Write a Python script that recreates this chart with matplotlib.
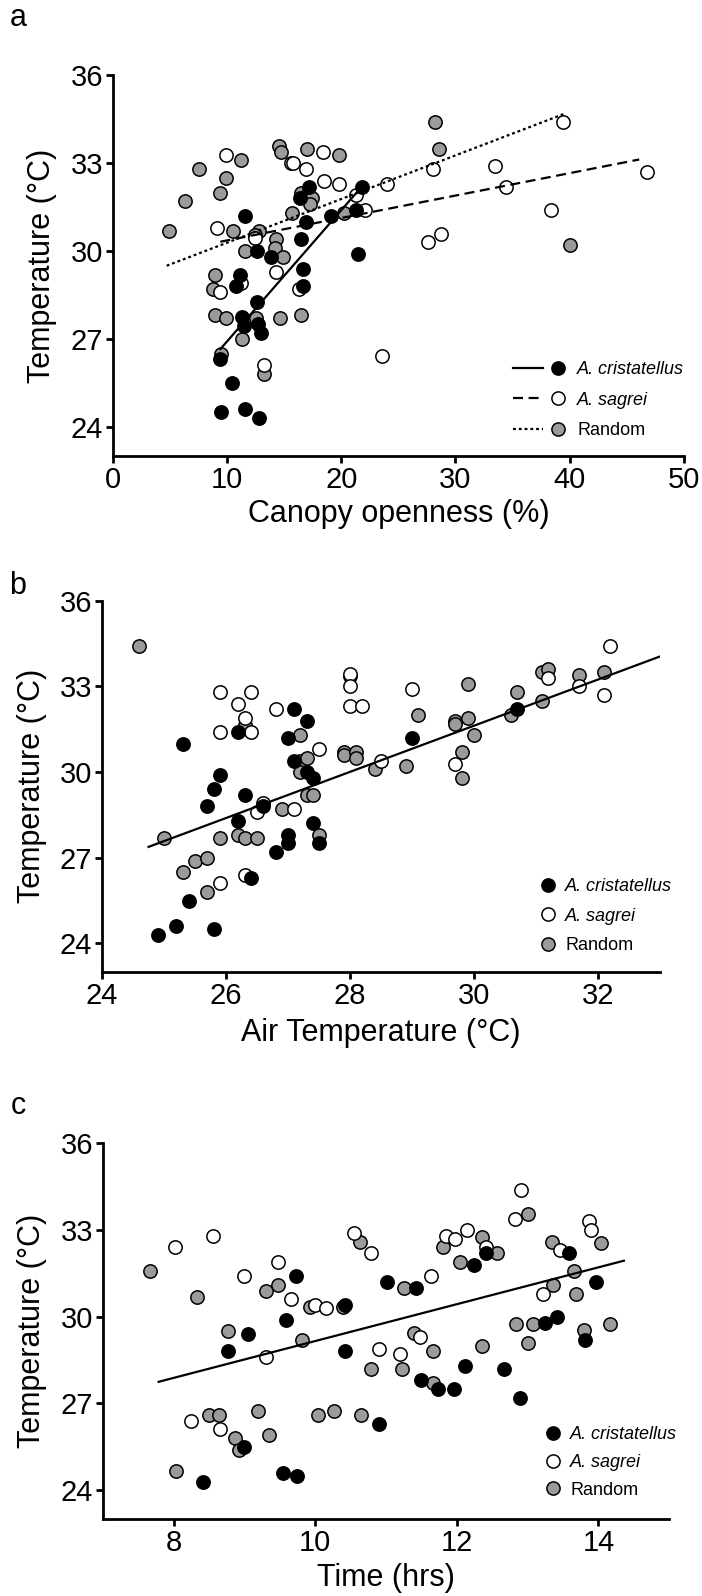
"""Body temperature of anoles vs canopy openness, air temperature and time."""
import matplotlib
matplotlib.use("Agg")
import matplotlib.pyplot as plt
from matplotlib.lines import Line2D
from matplotlib.legend_handler import HandlerTuple

plt.rcParams['font.family'] = ['Liberation Sans', 'DejaVu Sans']

GRAY = '#9b9b9b'

# ---- panel a: canopy openness ----
a_cris_x = [17.2, 16.4, 11.6, 16.9, 19.1, 21.8, 21.3, 21.5, 16.5, 12.6, 13.8, 16.6, 11.1,
            10.8, 16.6, 12.6, 11.3, 11.5, 12.7, 13.0, 9.4, 10.4, 9.5, 11.6, 12.8]
a_cris_y = [32.2, 31.8, 31.2, 31.0, 31.2, 32.2, 31.4, 29.9, 30.4, 30.0, 29.8, 29.4, 29.2,
            28.8, 28.8, 28.25, 27.75, 27.45, 27.5, 27.2, 26.3, 25.5, 24.5, 24.6, 24.3]
a_sag_x = [9.9, 15.6, 15.8, 16.9, 18.4, 18.5, 19.8, 21.3, 22.1, 24.0, 9.1, 12.4, 14.3,
           11.2, 9.4, 16.3, 13.2, 23.6, 28.0, 33.5, 34.4, 39.4, 46.8, 38.4, 27.6, 28.7]
a_sag_y = [33.3, 33.0, 33.0, 32.8, 33.4, 32.4, 32.3, 31.9, 31.4, 32.3, 30.8, 30.45, 29.3,
           28.9, 28.6, 28.7, 26.1, 26.4, 32.8, 32.9, 32.2, 34.4, 32.7, 31.4, 30.3, 30.6]
a_rand_x = [4.9, 6.3, 7.5, 9.9, 9.4, 11.2, 10.5, 12.8, 11.6, 14.3, 14.2, 14.9, 14.5, 14.7,
            17.0, 19.8, 15.7, 16.5, 17.0, 17.4, 17.3, 20.2, 8.9, 8.8, 8.9, 9.9, 11.3, 12.5,
            14.6, 16.5, 9.5, 13.2, 12.4, 28.2, 28.6, 40.0]
a_rand_y = [30.7, 31.7, 32.8, 32.5, 32.0, 33.1, 30.7, 30.7, 30.0, 30.4, 30.1, 29.8, 33.6, 33.4,
            33.5, 33.3, 31.3, 32.0, 31.9, 31.8, 31.6, 31.3, 29.2, 28.7, 27.8, 27.7, 27.0, 27.7,
            27.7, 27.8, 26.5, 25.8, 30.55, 34.4, 33.5, 30.2]
a_fit_cris_x, a_fit_cris_y = [9.4, 21.9], [26.65, 32.25]
a_fit_sag_x, a_fit_sag_y = [9.4, 46.1], [30.32, 33.13]
a_fit_rand_x, a_fit_rand_y = [4.7, 39.6], [29.5, 34.7]

# ---- panel b: air temperature ----
b_cris_x = [25.3, 25.9, 25.8, 25.7, 26.3, 26.6, 26.2, 27.1, 27.3, 26.2, 27.0, 27.1, 27.3,
            27.4, 27.4, 27.0, 27.0, 27.5, 26.8, 26.4, 25.4, 25.2, 24.9, 25.8, 29.0, 30.7]
b_cris_y = [31.0, 29.9, 29.4, 28.8, 29.2, 28.8, 28.3, 32.2, 31.8, 31.4, 31.2, 30.4, 30.0,
            29.8, 28.2, 27.8, 27.5, 27.5, 27.2, 26.3, 25.5, 24.6, 24.3, 24.5, 31.2, 32.2]
b_sag_x = [25.9, 26.4, 26.2, 26.3, 25.9, 26.4, 26.8, 27.5, 26.6, 26.5, 27.1, 26.3, 25.9,
           28.0, 28.0, 28.0, 28.2, 28.5, 29.0, 29.7, 31.2, 31.7, 32.1, 32.2]
b_sag_y = [32.8, 32.8, 32.4, 31.9, 31.4, 31.4, 32.2, 30.8, 28.9, 28.6, 28.7, 26.4, 26.1,
           33.45, 33.0, 32.3, 32.3, 30.4, 32.9, 30.3, 33.3, 33.0, 32.7, 34.4]
b_rand_x = [24.6, 25.0, 25.3, 25.5, 25.7, 25.7, 25.9, 26.2, 26.3, 26.5, 26.3, 26.9, 27.2, 27.2,
            27.3, 27.2, 27.3, 27.4, 27.5, 27.9, 27.9, 28.1, 28.1, 28.4, 28.0, 28.9, 29.1, 29.7,
            29.7, 29.9, 29.9, 30.0, 29.8, 29.8, 30.6, 30.7, 31.1, 31.1, 31.2, 31.7, 32.1]
b_rand_y = [34.4, 27.7, 26.5, 26.9, 27.0, 25.8, 27.7, 27.8, 27.7, 27.7, 31.65, 28.7, 31.3, 30.4,
            30.5, 30.0, 29.2, 29.2, 27.8, 30.7, 30.6, 30.7, 30.5, 30.1, 33.37, 30.2, 32.0, 31.8,
            31.7, 31.9, 33.1, 31.3, 30.7, 29.8, 32.0, 32.8, 32.5, 33.5, 33.6, 33.4, 33.5]
b_fit_x, b_fit_y = [24.75, 33.0], [27.38, 34.05]

# ---- panel c: time of day ----
c_cris_x = [9.73, 9.59, 9.05, 8.77, 8.99, 8.41, 9.55, 9.74, 10.42, 10.42, 11.01, 10.90, 11.42,
            12.24, 12.41, 12.12, 11.50, 11.74, 11.96, 12.67, 12.89, 13.25, 13.42, 13.59, 13.97, 13.81]
c_cris_y = [31.4, 29.9, 29.4, 28.8, 25.5, 24.3, 24.6, 24.5, 30.4, 28.8, 31.2, 26.3, 31.0,
            31.8, 32.2, 28.3, 27.8, 27.5, 27.5, 28.2, 27.2, 29.8, 30.0, 32.2, 31.2, 29.2]
c_sag_x = [8.02, 8.56, 9.00, 9.48, 9.66, 10.00, 10.15, 9.30, 8.25, 8.65, 10.55, 10.79, 10.90,
           11.20, 11.48, 11.63, 11.85, 11.98, 12.15, 12.41, 12.82, 12.91, 13.22, 13.46, 13.87, 13.89]
c_sag_y = [32.4, 32.8, 31.4, 31.9, 30.6, 30.4, 30.3, 28.6, 26.4, 26.1, 32.9, 32.2, 28.9,
           28.7, 29.3, 31.4, 32.8, 32.7, 33.0, 32.4, 33.4, 34.4, 30.8, 32.3, 33.3, 33.0]
c_rand_x = [7.67, 8.33, 8.77, 8.04, 8.50, 8.64, 8.87, 8.92, 9.19, 9.35, 9.30, 9.48, 9.81, 9.93,
            10.04, 10.27, 10.39, 10.65, 10.64, 10.79, 11.25, 11.23, 11.40, 11.66, 11.66, 11.80,
            12.04, 12.36, 12.57, 12.36, 13.00, 12.83, 13.07, 13.00, 13.34, 13.36, 13.65, 13.68,
            13.79, 14.04, 14.17]
c_rand_y = [31.6, 30.7, 29.5, 24.65, 26.6, 26.6, 25.8, 25.4, 26.75, 25.9, 30.9, 31.1, 29.2, 30.35,
            26.6, 26.75, 30.35, 26.6, 32.6, 28.2, 31.0, 28.2, 29.45, 28.8, 27.7, 32.4,
            31.9, 32.75, 32.2, 29.0, 33.55, 29.75, 29.75, 29.1, 32.6, 31.1, 31.6, 30.8,
            29.55, 32.55, 29.75]
c_fit_x, c_fit_y = [7.79, 14.36], [27.75, 31.94]

y_ticks = [24, 27, 30, 33, 36]
legend_labels = ["A. cristatellus", "A. sagrei", "Random"]


def style_axes(ax, xlim, xticks, ylim_low, xlabel, xlab_y, ylab_x):
    ax.set_xlim(*xlim)
    ax.set_ylim(ylim_low, 36)
    ax.set_xticks(xticks)
    ax.set_yticks(y_ticks)
    ax.spines['top'].set_visible(False)
    ax.spines['right'].set_visible(False)
    ax.spines['left'].set_linewidth(2)
    ax.spines['bottom'].set_linewidth(2)
    ax.tick_params(direction='out', length=5, width=2, labelsize=21, pad=2)
    ax.set_xlabel(xlabel, fontsize=22, va='center')
    ax.set_ylabel("Temperature (°C)", fontsize=22, va='center')
    ax.xaxis.set_label_coords(0.5, xlab_y)
    ax.yaxis.set_label_coords(ylab_x, 0.5)


def scatter_groups(ax, cx, cy, sx, sy, rx, ry):
    kw = dict(s=92, edgecolors='k', linewidths=1.1, zorder=3, clip_on=False)
    ax.scatter(rx, ry, c=GRAY, **kw)
    ax.scatter(sx, sy, c='white', **kw)
    ax.scatter(cx, cy, c='k', **kw)


def marker(fc):
    return Line2D([], [], ls='none', marker='o', markersize=9.5, markerfacecolor=fc,
                  markeredgecolor='k', markeredgewidth=1.1)


fig = plt.figure(figsize=(7.02, 15.96), dpi=100)

# panel a
ax_a = fig.add_axes([0.161, 0.7143, 0.813, 0.2384])
scatter_groups(ax_a, a_cris_x, a_cris_y, a_sag_x, a_sag_y, a_rand_x, a_rand_y)
ax_a.plot(a_fit_cris_x, a_fit_cris_y, color='k', lw=1.6, ls='-', zorder=4)
ax_a.plot(a_fit_sag_x, a_fit_sag_y, color='k', lw=1.6, ls=(0, (4.5, 2.5)), zorder=4)
ax_a.plot(a_fit_rand_x, a_fit_rand_y, color='k', lw=1.6, ls=(0, (1.3, 1.3)), zorder=4)
style_axes(ax_a, (0, 50), [0, 10, 20, 30, 40, 50], 23, "Canopy openness (%)", -0.152, -0.125)
handles_a = [
    (Line2D([], [], color='k', lw=1.6, ls='-'), marker('k')),
    (Line2D([], [], color='k', lw=1.6, ls=(0, (4.5, 2.5))), marker('white')),
    (Line2D([], [], color='k', lw=1.6, ls=(0, (1.3, 1.3))), marker(GRAY)),
]
leg = ax_a.legend(handles_a, legend_labels, handler_map={tuple: HandlerTuple(ndivide=None, pad=0)},
                  loc='upper left', bbox_to_anchor=(513 / 702, 1 - 361 / 1596),
                  bbox_transform=fig.transFigure, frameon=False, fontsize=13, borderpad=0,
                  borderaxespad=0, handlelength=3.3, handletextpad=0.25, labelspacing=0.75)
for t in leg.get_texts()[:2]:
    t.set_style('italic')

# panel b
ax_b = fig.add_axes([0.1453, 0.391, 0.795, 0.2326])
scatter_groups(ax_b, b_cris_x, b_cris_y, b_sag_x, b_sag_y, b_rand_x, b_rand_y)
ax_b.plot(b_fit_x, b_fit_y, color='k', lw=1.6, zorder=4)
style_axes(ax_b, (24, 33), [24, 26, 28, 30, 32], 23, "Air Temperature (°C)", -0.165, -0.125)
leg = ax_b.legend([marker('k'), marker('white'), marker(GRAY)], legend_labels,
                  loc='upper left', bbox_to_anchor=(539 / 702, 1 - 878 / 1596),
                  bbox_transform=fig.transFigure, frameon=False, fontsize=13, borderpad=0,
                  borderaxespad=0, handlelength=1.0, handletextpad=0.45, labelspacing=0.7)
for t in leg.get_texts()[:2]:
    t.set_style('italic')

# panel c
ax_c = fig.add_axes([0.1463, 0.0482, 0.807, 0.2354])
scatter_groups(ax_c, c_cris_x, c_cris_y, c_sag_x, c_sag_y, c_rand_x, c_rand_y)
ax_c.plot(c_fit_x, c_fit_y, color='k', lw=1.6, zorder=4)
style_axes(ax_c, (7, 15), [8, 10, 12, 14], 23, "Time (hrs)", -0.158, -0.125)
leg = ax_c.legend([marker('k'), marker('white'), marker(GRAY)], legend_labels,
                  loc='upper left', bbox_to_anchor=(544 / 702, 1 - 1426 / 1596),
                  bbox_transform=fig.transFigure, frameon=False, fontsize=13, borderpad=0,
                  borderaxespad=0, handlelength=1.0, handletextpad=0.45, labelspacing=0.6)
for t in leg.get_texts()[:2]:
    t.set_style('italic')

for letter, ypx in [("a", 18), ("b", 586), ("c", 1106)]:
    fig.text(18 / 702, 1 - ypx / 1596, letter, fontsize=22, ha='center', va='center')

fig.savefig("out.png", dpi=100)
